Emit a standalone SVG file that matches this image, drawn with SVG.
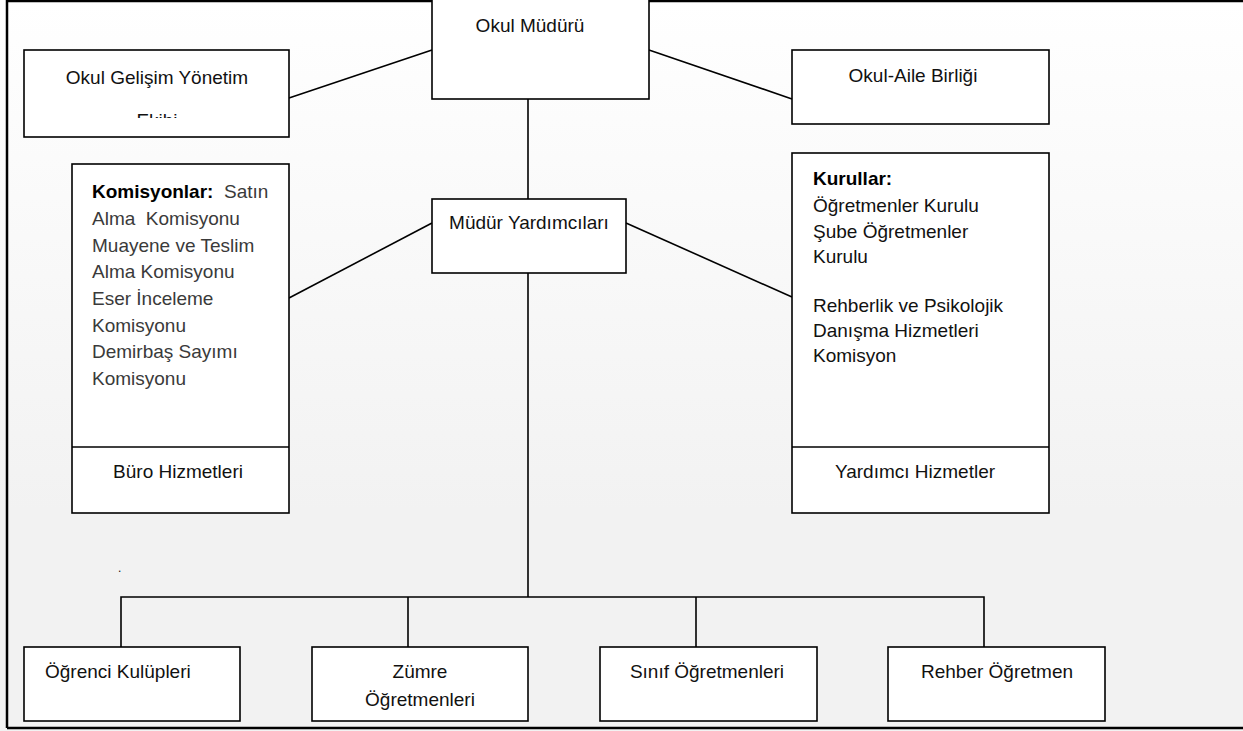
<svg xmlns="http://www.w3.org/2000/svg" width="1243" height="731" viewBox="0 0 1243 731">
<defs>
<linearGradient id="bg" x1="0" y1="0" x2="0" y2="1">
<stop offset="0" stop-color="#ffffff"/>
<stop offset="0.7" stop-color="#f2f2f2"/>
<stop offset="1" stop-color="#f2f2f2"/>
</linearGradient>
<clipPath id="clipOG"><rect x="24" y="50" width="265" height="68"/></clipPath>
<style>
.box{fill:#ffffff;stroke:#000000;stroke-width:1.6}
.ln{fill:none;stroke:#000000;stroke-width:1.6}
.t{font-family:"Liberation Sans",Arial,sans-serif;font-size:19px;fill:#111111}
.c{text-anchor:middle}
.g{fill:#3a3a3a}
.b{font-weight:bold;fill:#000000}
</style>
</defs>
<rect x="0" y="0" width="1243" height="731" fill="url(#bg)"/>
<path d="M7 728 L7 1 L1243 1 M7 728 L1243 728" fill="none" stroke="#000" stroke-width="2.5"/>

<g id="connectors">
<line class="ln" x1="289" y1="98" x2="432" y2="50"/>
<line class="ln" x1="649" y1="50" x2="792" y2="99"/>
<line class="ln" x1="528" y1="99" x2="528" y2="199"/>
<line class="ln" x1="289" y1="298" x2="432" y2="223"/>
<line class="ln" x1="626" y1="223" x2="792" y2="297"/>
<line class="ln" x1="528" y1="273" x2="528" y2="597"/>
<polyline class="ln" points="121,647 121,597 984,597 984,647"/>
<line class="ln" x1="408" y1="597" x2="408" y2="647"/>
<line class="ln" x1="696" y1="597" x2="696" y2="647"/>
</g>

<g id="okul-mudur">
<rect class="box" x="432" y="-2" width="217" height="101"/>
<text class="t c" x="530" y="32">Okul Müdürü</text>
</g>

<g id="okul-gelisim">
<rect class="box" x="24" y="50" width="265" height="87"/>
<text class="t c" x="157" y="84">Okul Gelişim Yönetim</text>
<text class="t c" x="157" y="127" clip-path="url(#clipOG)">Ekibi</text>
</g>

<g id="okul-aile">
<rect class="box" x="792" y="50" width="257" height="74"/>
<text class="t c" x="913" y="82">Okul-Aile Birliği</text>
</g>

<g id="mudur-yardimcilari">
<rect class="box" x="432" y="199" width="194" height="74"/>
<text class="t c" x="529" y="229">Müdür Yardımcıları</text>
</g>

<g id="komisyonlar">
<rect class="box" x="72" y="164" width="217" height="349"/>
<line class="ln" x1="72" y1="447" x2="289" y2="447"/>
<text class="t" x="92" y="198"><tspan class="b">Komisyonlar:</tspan><tspan class="g" xml:space="preserve">  Satın</tspan></text>
<text class="t g" x="92" y="225" xml:space="preserve">Alma  Komisyonu</text>
<text class="t g" x="92" y="252">Muayene ve Teslim</text>
<text class="t g" x="92" y="278">Alma Komisyonu</text>
<text class="t g" x="92" y="305">Eser İnceleme</text>
<text class="t g" x="92" y="332">Komisyonu</text>
<text class="t g" x="92" y="358">Demirbaş Sayımı</text>
<text class="t g" x="92" y="385">Komisyonu</text>
<text class="t c" x="178" y="478">Büro Hizmetleri</text>
</g>

<g id="kurullar">
<rect class="box" x="792" y="153" width="257" height="360"/>
<line class="ln" x1="792" y1="447" x2="1049" y2="447"/>
<text class="t b" x="813" y="185">Kurullar:</text>
<text class="t" x="813" y="212">Öğretmenler Kurulu</text>
<text class="t" x="813" y="238">Şube Öğretmenler</text>
<text class="t" x="813" y="263">Kurulu</text>
<text class="t" x="813" y="312">Rehberlik ve Psikolojik</text>
<text class="t" x="813" y="337">Danışma Hizmetleri</text>
<text class="t" x="813" y="362">Komisyon</text>
<text class="t c" x="915" y="478">Yardımcı Hizmetler</text>
</g>

<text class="t" x="118" y="572" style="font-size:12px">.</text>

<g id="ogrenci-kulupleri">
<rect class="box" x="24" y="647" width="216" height="74"/>
<text class="t" x="45" y="678">Öğrenci Kulüpleri</text>
</g>

<g id="zumre">
<rect class="box" x="312" y="647" width="216" height="74"/>
<text class="t c" x="420" y="678">Zümre</text>
<text class="t c" x="420" y="706">Öğretmenleri</text>
</g>

<g id="sinif">
<rect class="box" x="600" y="647" width="217" height="74"/>
<text class="t c" x="707" y="678">Sınıf Öğretmenleri</text>
</g>

<g id="rehber">
<rect class="box" x="888" y="647" width="217" height="74"/>
<text class="t c" x="997" y="678">Rehber Öğretmen</text>
</g>
</svg>
